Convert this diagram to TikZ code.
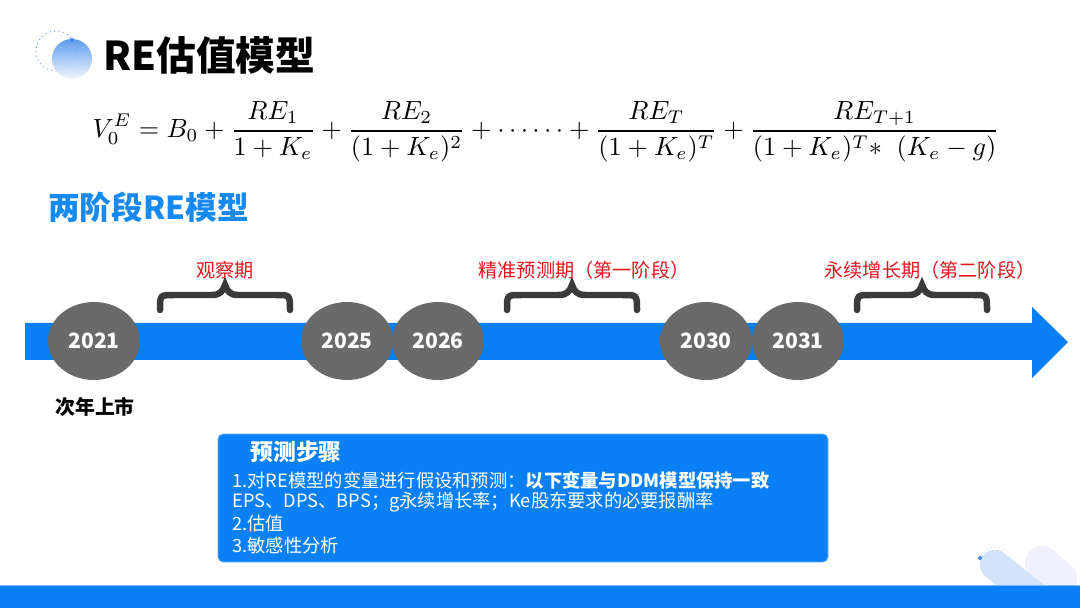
\documentclass[tikz,border=0pt]{standalone}
\usepackage[no-math]{fontspec}
\newfontfamily\cjk{Noto Sans CJK SC}
\usetikzlibrary{shapes.geometric}
\definecolor{bandblue}{RGB}{10,128,246}
\definecolor{headblue}{RGB}{22,138,240}
\definecolor{yeargray}{RGB}{106,106,106}
\definecolor{bracegray}{RGB}{58,58,58}
\definecolor{phasered}{RGB}{228,22,30}
\definecolor{iconblue}{RGB}{70,140,235}
\tikzset{
  year/.style={ellipse,fill=yeargray,minimum width=1.84cm,minimum height=1.56cm,inner sep=0pt,text=white,font=\cjk\bfseries\fontsize{12}{14}\selectfont},
  phase/.style={text=phasered,inner sep=0pt,font=\cjk\fontsize{10.9}{13}\selectfont},
  stepline/.style={anchor=west,inner sep=0pt,text=white,font=\cjk\fontsize{10.4}{13}\selectfont},
  bracepen/.style={draw=bracegray,line width=.13cm,line cap=round},
  curl/.pic={\draw[bracepen] (-65,16) .. controls (-65,1) .. (-51,1) -- (-13,1) .. controls (-5,1) and (-2,-3) .. (0,-9) .. controls (2,-3) and (5,1) .. (13,1) -- (51,1) .. controls (65,1) .. (65,16);}
}
\begin{document}
\begin{tikzpicture}[x=.02cm,y=-.02cm,font=\cjk]
\useasboundingbox (0,0) rectangle (1080,608);
\fill[white] (0,0) rectangle (1080,608);
\draw[iconblue,dotted,line width=.5pt] (56,51) circle (20);
\shade[top color=iconblue!95,bottom color=iconblue!8,opacity=.9] (72,59) circle (20);
\fill[iconblue] (72,40) circle (2.2);
\node[anchor=west,inner sep=0pt,font=\cjk\bfseries\fontsize{22.6}{27}\selectfont] (title) at (103,55){RE估值模型};
\node[inner sep=0pt] (formula) at (546,132){\resizebox{18.14cm}{!}{$\displaystyle V_0^E=B_0+\frac{RE_1}{1+K_e}+\frac{RE_2}{(1+K_e)^2}+\cdots\cdots+\frac{RE_T}{(1+K_e)^T}+\frac{RE_{T+1}}{(1+K_e)^T{*}\;\;(K_e-g)}$}};
\node[anchor=west,inner sep=0pt,text=headblue,font=\cjk\bfseries\fontsize{18}{22}\selectfont] (twostage) at (48,207){两阶段RE模型};
\fill[bandblue] (25,323) -- (1032,323) -- (1032,307) -- (1068,342) -- (1032,378) -- (1032,360) -- (25,360) -- cycle;
\foreach \x/\v in {94/2021,347/2025,438/2026,706/2030,798/2031}{\node[year] (y\v) at (\x,341){\v};}
\foreach \x/\lx/\v [count=\i] in {225/225/观察期,572/584/精准预测期（第一阶段）,922/930/永续增长期（第二阶段）}{\pic at (\x,294){curl};\node[phase] (phase\i) at (\lx,270){\v};}
\node[inner sep=0pt,font=\cjk\bfseries\fontsize{11.3}{13}\selectfont] (listing) at (95,407){次年上市};
\draw[fill=bandblue,draw=bandblue!60,rounded corners=.1cm] (218,434) rectangle (828,562);
\node[anchor=west,inner sep=0pt,text=white,font=\cjk\bfseries\fontsize{13}{15}\selectfont] (steps) at (250,452){预测步骤};
\foreach \y/\v [count=\i] in {480/{1.对RE模型的变量进行假设和预测：{\bfseries 以下变量与DDM模型保持一致}},502/{EPS、DPS、BPS；g永续增长率；Ke股东要求的必要报酬率},524/{2.估值},546/{3.敏感性分析}}{\node[stepline] (line\i) at (232,\y){\v};}
\draw[line width=.68cm,line cap=round,blue!6] (1042,563) -- (1060,578);
\draw[line width=.6cm,line cap=round,iconblue!30,opacity=.8] (995,565) -- (1035,597);
\draw[iconblue!60,dotted,line width=.4pt] (980,560) arc (200:300:15);
\draw[iconblue!60,dotted,line width=.4pt] (980,560) .. controls (985,545) and (995,545) .. (1005,550);
\fill[iconblue] (980,558) circle (2);
\fill[bandblue] (0,585) rectangle (1080,608);
\draw[bandblue!55,line width=.6pt] (0,585.5) -- (1080,585.5);
\end{tikzpicture}
\end{document}
